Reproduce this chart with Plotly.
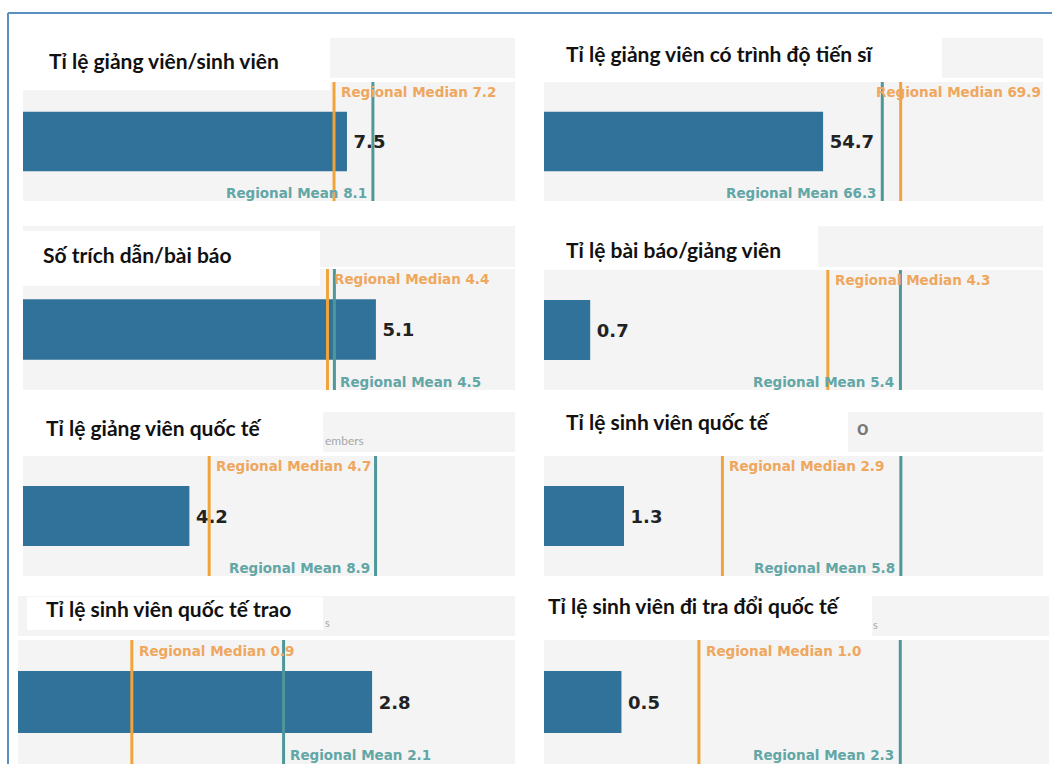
import plotly.graph_objects as go

# ---------------- data ----------------
titles = [
    "Tỉ lệ giảng viên/sinh viên",
    "Tỉ lệ giảng viên có trình độ tiến sĩ",
    "Số trích dẫn/bài báo",
    "Tỉ lệ bài báo/giảng viên",
    "Tỉ lệ giảng viên quốc tế",
    "Tỉ lệ sinh viên quốc tế",
    "Tỉ lệ sinh viên quốc tế trao",
    "Tỉ lệ sinh viên đi tra đổi quốc tế",
]
values = [7.5, 54.7, 5.1, 0.7, 4.2, 1.3, 2.8, 0.5]
medians = [7.2, 69.9, 4.4, 4.3, 4.7, 2.9, 0.9, 1.0]
means = [8.1, 66.3, 4.5, 5.4, 8.9, 5.8, 2.1, 2.3]

# ---------------- layout (pixels) ----------------
W, H = 1052, 764
def px(x): return x / W
def py(y): return 1 - y / H

areas = [(23, 515, 82, 201), (544, 1043, 82, 201), (23, 515, 269, 390), (544, 1043, 270, 390),
         (23, 515, 456, 576), (544, 1043, 456, 576), (18, 515, 640, 764), (544, 1049, 640, 764)]
xmax = [11.39, 97.8, 7.11, 7.56, 12.42, 8.11, 3.93, 3.26]
strips = [(23, 515, 38, 78), (942, 1043, 38, 78), (23, 515, 226, 267), (818, 1043, 226, 267),
          (23, 515, 412, 452), (848, 1043, 412, 452), (18, 515, 596, 636), (872, 1049, 596, 636)]
wboxes = [(23, 330, 38, 90), (544, 942, 38, 82), (23, 320, 231, 286), (544, 818, 226, 270),
          (23, 323, 412, 455), (544, 848, 412, 451), (27, 323, 597, 630), (544, 872, 590, 640)]
tpos = [(47, 60), (564, 54), (41, 255), (564, 249), (44, 427), (564, 421), (44, 608), (546, 605)]
mean_side = ["right", "right", "left", "right", "right", "right", "left", "right"]

BAR = "#30729a"
MED_LINE, MED_TXT = "#F2A43C", "#EFA75E"
MEAN_LINE, MEAN_TXT = "#4F9799", "#62A6A6"
GRAY = "#f4f4f4"

fig = go.Figure()
shapes, annos = [], []
layout = dict(width=W, height=H, margin=dict(l=0, r=0, t=0, b=0), autosize=False,
              paper_bgcolor="white", plot_bgcolor="rgba(0,0,0,0)", showlegend=False)

for i in range(8):
    k = "" if i == 0 else str(i + 1)
    xa, ya = "x" + k, "y" + k
    x0, x1, y0, y1 = areas[i]
    layout["xaxis" + k] = dict(domain=[px(x0), px(x1)], range=[0, xmax[i]], anchor=ya,
                               showgrid=False, zeroline=False, showticklabels=False, fixedrange=True)
    layout["yaxis" + k] = dict(domain=[py(y1), py(y0)], range=[-0.5, 0.5], anchor=xa,
                               showgrid=False, zeroline=False, showticklabels=False, fixedrange=True)
    fig.add_trace(go.Bar(x=[values[i]], y=[0], orientation="h", width=0.5, xaxis=xa, yaxis=ya,
                         marker=dict(color=BAR, line=dict(width=0)),
                         texttemplate="\u2009%{x:.1f}", textposition="outside", constraintext="none",
                         cliponaxis=False,
                         textfont=dict(family="DejaVu Sans", size=18, color="#222222", weight="bold"),
                         hoverinfo="skip"))
    # backgrounds
    shapes.append(dict(type="rect", xref="paper", yref="paper", x0=px(x0), x1=px(x1), y0=py(y1), y1=py(y0),
                       fillcolor=GRAY, line=dict(width=0), layer="below"))
    s = strips[i]
    shapes.append(dict(type="rect", xref="paper", yref="paper", x0=px(s[0]), x1=px(s[1]), y0=py(s[3]), y1=py(s[2]),
                       fillcolor=GRAY, line=dict(width=0), layer="below"))
    b = wboxes[i]
    shapes.append(dict(type="rect", xref="paper", yref="paper", x0=px(b[0]), x1=px(b[1]), y0=py(b[3]), y1=py(b[2]),
                       fillcolor="white", line=dict(width=0), layer="below"))
    # lines
    shapes.append(dict(type="line", xref=xa, yref=ya + " domain", x0=medians[i], x1=medians[i], y0=0, y1=1,
                       line=dict(color=MED_LINE, width=3), layer="above"))
    shapes.append(dict(type="line", xref=xa, yref=ya + " domain", x0=means[i], x1=means[i], y0=0, y1=1,
                       line=dict(color=MEAN_LINE, width=3), layer="above"))
    lf = dict(family="DejaVu Sans", size=13.5, weight="bold")
    if i == 1:
        annos.append(dict(xref=xa + " domain", yref=ya + " domain", x=1, y=0.915, xanchor="right", yanchor="middle",
                          text=f"Regional Median {medians[i]:.1f}", showarrow=False, font=dict(**lf, color=MED_TXT)))
    else:
        annos.append(dict(xref=xa, yref=ya + " domain", x=medians[i], y=0.915, xanchor="left", yanchor="middle",
                          xshift=5, text=f"Regional Median {medians[i]:.1f}", showarrow=False,
                          font=dict(**lf, color=MED_TXT)))
    if mean_side[i] == "right":
        annos.append(dict(xref=xa, yref=ya + " domain", x=means[i], y=0.07, xanchor="right", yanchor="middle",
                          xshift=-4, text=f"Regional Mean {means[i]:.1f}", showarrow=False,
                          font=dict(**lf, color=MEAN_TXT)))
    else:
        annos.append(dict(xref=xa, yref=ya + " domain", x=means[i], y=0.07, xanchor="left", yanchor="middle",
                          xshift=4, text=f"Regional Mean {means[i]:.1f}", showarrow=False,
                          font=dict(**lf, color=MEAN_TXT)))
    tx, ty = tpos[i]
    annos.append(dict(xref="paper", yref="paper", x=px(tx), y=py(ty), xanchor="left", yanchor="middle",
                      text=titles[i], showarrow=False,
                      font=dict(family="Lato", size=21, color="#111111", weight="bold")))

# leftover fragments visible in the screenshot
frag = [("embers", 323, 440, 12, "#a8a8a8", "normal"), ("o", 855, 427, 20, "#777777", "bold"),
        ("s", 323, 622, 11, "#a8a8a8", "normal"), ("s", 871, 624, 11, "#a8a8a8", "normal")]
for t, fx, fy, fs, fc, fw in frag:
    annos.append(dict(xref="paper", yref="paper", x=px(fx), y=py(fy), xanchor="left", yanchor="middle",
                      text=t, showarrow=False, font=dict(family="Lato", size=fs, color=fc, weight=fw)))

# outer frame
shapes.append(dict(type="line", xref="paper", yref="paper", x0=px(8), x1=1, y0=py(13), y1=py(13),
                   line=dict(color="#5b8fc2", width=2)))
shapes.append(dict(type="line", xref="paper", yref="paper", x0=px(8), x1=px(8), y0=py(13), y1=0,
                   line=dict(color="#5b8fc2", width=2)))

layout["shapes"] = shapes
layout["annotations"] = annos
fig.update_layout(**layout)
fig.write_html("out.html")
